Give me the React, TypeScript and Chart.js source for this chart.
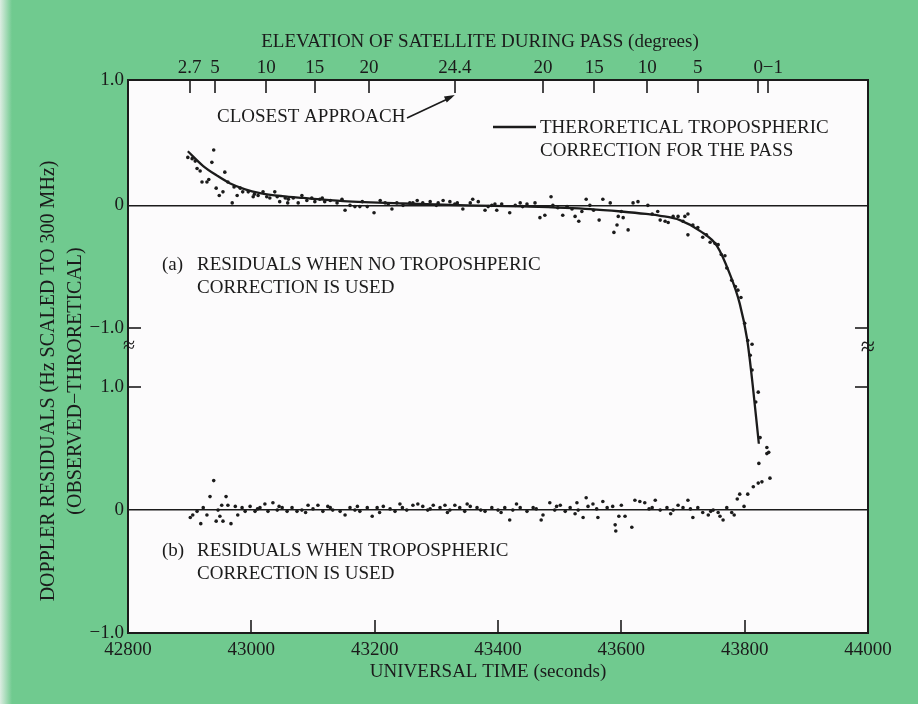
import React, { useEffect, useRef } from "react";
import { Chart, registerables } from "chart.js";

Chart.register(...registerables);

// ---------- axes ----------
const X_MIN = 42800;
const X_MAX = 44000;
const xTickValues = [42800, 43000, 43200, 43400, 43600, 43800, 44000];

// elevation of satellite (top axis): time at which each elevation is reached
const elevTimes = [42900, 42941, 43024, 43103, 43191, 43330, 43473, 43556, 43642, 43724, 43822, 43838];
const elevLabels = ["2.7", "5", "10", "15", "20", "24.4", "20", "15", "10", "5", "0", "\u2002\u22121"];

// two stacked panels on one value axis: panel (a) is shifted up by PANEL_OFFSET
const PANEL_OFFSET = 2.48;
const Y_MIN = -1;
const Y_MAX = 3.5;
const yTickValues = [-1, 0, 1, PANEL_OFFSET - 1, PANEL_OFFSET, Y_MAX];
const yTickLabels = ["\u22121.0", "0", "1.0", "\u22121.0", "0", "1.0"];
const zeroLines = [0, PANEL_OFFSET];
const innerTickValues = [1, PANEL_OFFSET - 1];

// ---------- data ----------
// theoretical tropospheric correction for the pass [time s, Hz]
const theoryCurve: [number, number][] = [
  [42897, 0.44], [42922, 0.32], [42945, 0.24], [42965, 0.18], [42990, 0.13], [43014, 0.1],
  [43050, 0.075], [43084, 0.06], [43149, 0.035], [43246, 0.015], [43350, 0.0], [43450, -0.01],
  [43550, -0.03], [43600, -0.05], [43640, -0.07], [43663, -0.085], [43695, -0.12], [43728, -0.21],
  [43755, -0.33], [43776, -0.56], [43792, -0.8], [43804, -1.09], [43813, -1.46], [43823, -1.94],
];

// (a) residuals when no tropospheric correction is used [time s, Hz]
const residualsA: [number, number][] = [
  [42897, 0.39], [42904, 0.38], [42909, 0.36], [42912, 0.3], [42917, 0.28], [42920, 0.19],
  [42928, 0.19], [42931, 0.21], [42936, 0.35], [42939, 0.45], [42943, 0.14], [42948, 0.08],
  [42954, 0.11], [42957, 0.27], [42962, 0.19], [42969, 0.02], [42972, 0.15], [42977, 0.08],
  [42982, 0.14], [42986, 0.11], [42995, 0.11], [43003, 0.07], [43005, 0.09], [43011, 0.08],
  [43019, 0.11], [43025, 0.07], [43030, 0.06], [43038, 0.11], [43042, 0.07], [43046, 0.03],
  [43055, 0.06], [43059, 0.02], [43060, 0.05], [43068, 0.06], [43076, 0.02], [43082, 0.08],
  [43090, 0.04], [43098, 0.06], [43103, 0.03], [43111, 0.05], [43115, 0.06], [43119, 0.03],
  [43128, 0.04], [43139, 0.02], [43147, 0.05], [43152, -0.04], [43160, 0.0], [43168, -0.01],
  [43176, -0.01], [43180, 0.03], [43188, -0.01], [43199, -0.06], [43209, 0.04], [43217, 0.02],
  [43222, 0.01], [43228, -0.03], [43236, 0.02], [43246, 0.0], [43257, 0.02], [43262, 0.02],
  [43269, 0.04], [43278, 0.02], [43290, 0.03], [43300, 0.0], [43303, 0.02], [43311, 0.04],
  [43322, 0.03], [43330, 0.01], [43334, 0.02], [43343, -0.03], [43355, 0.02], [43359, 0.05],
  [43368, 0.03], [43379, -0.04], [43384, -0.01], [43390, 0.0], [43395, 0.01], [43398, -0.04],
  [43406, 0.01], [43419, -0.06], [43428, 0.0], [43436, 0.02], [43440, -0.01], [43447, 0.01],
  [43460, 0.02], [43468, -0.1], [43476, -0.08], [43486, 0.07], [43489, 0.0], [43497, -0.02],
  [43505, -0.08], [43512, -0.01], [43520, -0.03], [43525, -0.09], [43531, -0.13], [43536, -0.05],
  [43543, 0.05], [43549, 0.0], [43555, -0.04], [43564, -0.12], [43570, 0.05], [43582, 0.02],
  [43588, -0.22], [43593, -0.16], [43595, -0.09], [43600, -0.05], [43603, -0.1], [43611, -0.2],
  [43619, 0.02], [43627, 0.03], [43643, 0.0], [43650, -0.07], [43659, -0.05], [43663, -0.12],
  [43671, -0.13], [43676, -0.14], [43684, -0.09], [43692, -0.09], [43700, -0.13], [43703, -0.09],
  [43708, -0.07], [43708, -0.24], [43716, -0.16], [43724, -0.18], [43732, -0.26], [43738, -0.24],
  [43744, -0.3], [43752, -0.31], [43757, -0.32], [43762, -0.4], [43768, -0.41], [43771, -0.51],
  [43779, -0.61], [43785, -0.66], [43789, -0.69], [43794, -0.75], [43800, -0.96], [43805, -1.1],
  [43809, -1.22], [43812, -1.13], [43812, -1.34], [43818, -1.6], [43822, -1.52], [43825, -1.89],
  [43836, -1.97],
];

// (b) residuals when tropospheric correction is used [time s, Hz]
const residualsB: [number, number][] = [
  [42901, -0.06], [42905, -0.04], [42912, -0.01], [42918, -0.11], [42922, 0.02], [42928, -0.04],
  [42933, 0.11], [42939, 0.24], [42943, -0.09], [42946, 0.0], [42949, -0.05], [42952, 0.04],
  [42954, -0.09], [42959, 0.11], [42962, 0.04], [42967, -0.11], [42974, 0.03], [42978, -0.04],
  [42985, 0.02], [42990, -0.01], [42998, 0.03], [43006, -0.01], [43010, 0.01], [43014, 0.02],
  [43022, 0.05], [43027, -0.01], [43035, 0.06], [43042, 0.0], [43045, 0.03], [43050, 0.02],
  [43058, -0.01], [43066, 0.02], [43074, -0.01], [43082, 0.0], [43088, -0.02], [43092, 0.04],
  [43100, 0.01], [43108, 0.04], [43116, -0.01], [43124, 0.03], [43128, 0.02], [43132, 0.0],
  [43144, -0.01], [43152, -0.04], [43160, 0.02], [43168, 0.0], [43172, 0.03], [43176, -0.01],
  [43188, 0.02], [43196, -0.05], [43204, 0.02], [43208, -0.02], [43214, 0.03], [43225, 0.01],
  [43233, -0.01], [43241, 0.05], [43245, 0.02], [43252, 0.0], [43262, 0.04], [43270, 0.05],
  [43278, 0.03], [43286, 0.0], [43290, 0.01], [43295, 0.04], [43306, 0.02], [43314, 0.04],
  [43318, -0.02], [43322, 0.0], [43330, 0.04], [43338, 0.02], [43346, -0.01], [43350, 0.05],
  [43355, 0.03], [43366, 0.02], [43372, 0.0], [43379, -0.01], [43390, 0.02], [43400, 0.0],
  [43405, -0.02], [43411, 0.02], [43419, -0.08], [43424, 0.0], [43430, 0.05], [43436, 0.02],
  [43447, -0.01], [43457, 0.02], [43462, 0.01], [43470, -0.08], [43473, -0.04], [43484, 0.06],
  [43492, 0.0], [43495, 0.03], [43501, 0.04], [43509, -0.01], [43517, 0.02], [43525, -0.03],
  [43528, 0.06], [43530, 0.0], [43538, -0.06], [43543, 0.1], [43546, 0.03], [43554, 0.05],
  [43560, 0.01], [43562, -0.06], [43570, 0.07], [43577, 0.02], [43586, 0.03], [43590, -0.12],
  [43591, -0.17], [43596, -0.05], [43600, 0.04], [43606, -0.05], [43617, -0.14], [43622, 0.08],
  [43630, 0.07], [43638, 0.06], [43645, 0.01], [43650, 0.02], [43655, 0.08], [43663, 0.0],
  [43674, 0.02], [43680, -0.03], [43684, 0.0], [43692, 0.04], [43700, 0.02], [43708, 0.08],
  [43712, 0.01], [43716, -0.06], [43724, 0.02], [43732, -0.02], [43741, -0.04], [43745, -0.01],
  [43749, 0.0], [43757, -0.02], [43760, -0.05], [43765, -0.08], [43771, 0.02], [43779, -0.02],
  [43783, -0.04], [43788, 0.09], [43792, 0.13], [43799, 0.03], [43805, 0.13], [43814, 0.19],
  [43822, 0.22], [43823, 0.38], [43828, 0.23], [43836, 0.46], [43839, 0.47], [43841, 0.26],
];

// ---------- texts ----------
const TOP_TITLE = "ELEVATION OF SATELLITE DURING PASS (degrees)";
const BOTTOM_TITLE = "UNIVERSAL TIME (seconds)";
const Y_TITLE_1 = "DOPPLER RESIDUALS (Hz SCALED TO 300 MHz)";
const Y_TITLE_2 = "(OBSERVED\u2212THRORETICAL)";
const CLOSEST = "CLOSEST APPROACH";
const LEGEND_1 = "THERORETICAL TROPOSPHERIC";
const LEGEND_2 = "CORRECTION FOR THE PASS";
const NOTE_A_1 = "RESIDUALS WHEN NO TROPOSHPERIC";
const NOTE_B_1 = "RESIDUALS WHEN TROPOSPHERIC";
const NOTE_2 = "CORRECTION IS USED";

// ---------- style ----------
const FONT = '"Liberation Serif", "DejaVu Serif", "Times New Roman", serif';
const INK = "#1b1b1b";
const GREEN = "#70ca8f";
const PAPER = "#fcfbfc";
const FS = 19;

const decorPlugin = {
  id: "decor",
  beforeDraw(chart: any) {
    const { ctx, width, height, chartArea: a } = chart;
    ctx.save();
    ctx.fillStyle = GREEN;
    ctx.fillRect(0, 0, width, height);
    const g = ctx.createLinearGradient(0, 0, 12, 0);
    g.addColorStop(0, "#dcede2");
    g.addColorStop(1, GREEN);
    ctx.fillStyle = g;
    ctx.fillRect(0, 0, 12, height);
    ctx.fillStyle = PAPER;
    ctx.fillRect(a.left, a.top, a.right - a.left, a.bottom - a.top);
    ctx.restore();
  },
  afterDraw(chart: any) {
    const { ctx, chartArea: a, scales } = chart;
    const xs = scales.x;
    const ys = scales.y;
    const seg = (x1: number, y1: number, x2: number, y2: number) => {
      ctx.beginPath();
      ctx.moveTo(x1, y1);
      ctx.lineTo(x2, y2);
      ctx.stroke();
    };
    ctx.save();
    ctx.strokeStyle = INK;
    ctx.lineWidth = 1.6;
    // inward ticks, bottom
    for (const v of xTickValues) {
      if (v === X_MIN || v === X_MAX) continue;
      const px = Math.round(xs.getPixelForValue(v));
      seg(px, a.bottom, px, a.bottom - 13);
    }
    // inward ticks, top (elevation)
    for (const t of elevTimes) {
      const px = Math.round(xs.getPixelForValue(t));
      seg(px, a.top, px, a.top + 13);
    }
    // inward ticks at the panel break
    for (const v of innerTickValues) {
      const py = Math.round(ys.getPixelForValue(v));
      seg(a.left, py, a.left + 13, py);
      seg(a.right, py, a.right - 13, py);
    }
    // break marks
    ctx.fillStyle = INK;
    ctx.textAlign = "center";
    ctx.textBaseline = "middle";
    const breakY = ys.getPixelForValue(1.33);
    ctx.font = `22px ${FONT}`;
    ctx.fillText("\u2248", a.left + 1, breakY);
    ctx.font = `26px ${FONT}`;
    ctx.fillText("\u2248", a.right, breakY + 2);

    // titles
    ctx.font = `${FS}px ${FONT}`;
    ctx.fillText(TOP_TITLE, 480, 42);
    ctx.fillText(BOTTOM_TITLE, 488, 672);
    ctx.font = `20px ${FONT}`;
    ctx.save();
    ctx.translate(49, 381);
    ctx.rotate(-Math.PI / 2);
    ctx.fillText(Y_TITLE_1, 0, 0);
    ctx.restore();
    ctx.save();
    ctx.translate(76, 381);
    ctx.rotate(-Math.PI / 2);
    ctx.fillText(Y_TITLE_2, 0, 0);
    ctx.restore();
    ctx.font = `${FS}px ${FONT}`;

    // closest approach annotation with arrow to the 24.4 tick
    ctx.textAlign = "left";
    ctx.fillText(CLOSEST, 217, 117);
    const tipX = xs.getPixelForValue(elevTimes[5]);
    const tipY = a.top + 15;
    const sx = 407;
    const sy = 118;
    ctx.lineWidth = 1.6;
    seg(sx, sy, tipX - 3, tipY + 2);
    const ang = Math.atan2(tipY - sy, tipX - sx);
    ctx.beginPath();
    ctx.moveTo(tipX, tipY);
    ctx.lineTo(tipX - 11 * Math.cos(ang - 0.3), tipY - 11 * Math.sin(ang - 0.3));
    ctx.lineTo(tipX - 11 * Math.cos(ang + 0.3), tipY - 11 * Math.sin(ang + 0.3));
    ctx.closePath();
    ctx.fill();

    // legend
    ctx.lineWidth = 2.6;
    seg(493, 127, 536, 127);
    ctx.fillText(LEGEND_1, 540, 128);
    ctx.fillText(LEGEND_2, 540, 151);

    // panel notes
    const yA = ys.getPixelForValue(PANEL_OFFSET - 0.47);
    ctx.fillText("(a)", 162, yA + 2);
    ctx.fillText(NOTE_A_1, 197, yA + 2);
    ctx.fillText(NOTE_2, 197, yA + 25);
    const yB = ys.getPixelForValue(-0.32);
    ctx.fillText("(b)", 162, yB + 2);
    ctx.fillText(NOTE_B_1, 197, yB + 2);
    ctx.fillText(NOTE_2, 197, yB + 25);
    ctx.restore();
  },
};

export default function App() {
  const canvasRef = useRef<HTMLCanvasElement | null>(null);

  useEffect(() => {
    const canvas = canvasRef.current;
    if (!canvas) return;
    const font = { family: FONT, size: FS };
    const chart = new Chart(canvas, {
      type: "scatter",
      data: {
        datasets: [
          {
            label: "theory",
            type: "line",
            data: theoryCurve.map(([t, v]) => ({ x: t, y: v + PANEL_OFFSET })),
            borderColor: INK,
            borderWidth: 2.3,
            pointRadius: 0,
            cubicInterpolationMode: "monotone",
            fill: false,
          } as any,
          {
            label: "a",
            data: residualsA.map(([t, v]) => ({ x: t, y: v + PANEL_OFFSET })),
            pointRadius: 1.8,
            pointBackgroundColor: INK,
            pointBorderWidth: 0,
          },
          {
            label: "b",
            data: residualsB.map(([t, v]) => ({ x: t, y: v })),
            pointRadius: 1.8,
            pointBackgroundColor: INK,
            pointBorderWidth: 0,
          },
        ],
      },
      options: {
        responsive: false,
        animation: false,
        devicePixelRatio: 1,
        layout: { padding: 0, autoPadding: false } as any,
        plugins: { legend: { display: false }, tooltip: { enabled: false } },
        scales: {
          x: {
            type: "linear",
            position: "bottom",
            min: X_MIN,
            max: X_MAX,
            afterBuildTicks: (s: any) => {
              s.ticks = xTickValues.map((v) => ({ value: v }));
            },
            afterFit: (s: any) => {
              s.height = 71;
            },
            ticks: {
              font,
              color: INK,
              padding: 6,
              autoSkip: false,
              maxRotation: 0,
              callback: (v: any) => String(v),
            },
            grid: { display: false, drawTicks: false },
            border: { display: true, color: INK, width: 2 },
          },
          x2: {
            type: "linear",
            position: "top",
            min: X_MIN,
            max: X_MAX,
            afterBuildTicks: (s: any) => {
              s.ticks = elevTimes.map((v) => ({ value: v }));
            },
            afterFit: (s: any) => {
              s.height = 80;
            },
            ticks: {
              font,
              color: INK,
              padding: 1,
              autoSkip: false,
              maxRotation: 0,
              callback: (_v: any, i: number) => elevLabels[i],
            },
            grid: { display: false, drawTicks: false },
            border: { display: true, color: INK, width: 2 },
          },
          y: {
            type: "linear",
            position: "left",
            min: Y_MIN,
            max: Y_MAX,
            afterBuildTicks: (s: any) => {
              s.ticks = yTickValues.map((v) => ({ value: v }));
            },
            afterFit: (s: any) => {
              s.width = 128;
            },
            ticks: {
              font,
              color: INK,
              padding: 4,
              autoSkip: false,
              callback: (_v: any, i: number) => yTickLabels[i],
            },
            grid: {
              drawTicks: false,
              lineWidth: 1.4,
              color: (c: any) => (zeroLines.includes(c.tick?.value) ? INK : "rgba(0,0,0,0)"),
            },
            border: { display: true, color: INK, width: 2 },
          },
          y2: {
            type: "linear",
            position: "right",
            min: Y_MIN,
            max: Y_MAX,
            afterFit: (s: any) => {
              s.width = 50;
            },
            ticks: { display: false },
            grid: { display: false, drawTicks: false },
            border: { display: true, color: INK, width: 2 },
          },
        },
      } as any,
      plugins: [decorPlugin],
    });
    return () => chart.destroy();
  }, []);

  return (
    <div style={{ position: "fixed", left: 0, top: 0, width: 918, height: 704 }}>
      <canvas ref={canvasRef} width={918} height={704} style={{ display: "block" }} />
    </div>
  );
}
